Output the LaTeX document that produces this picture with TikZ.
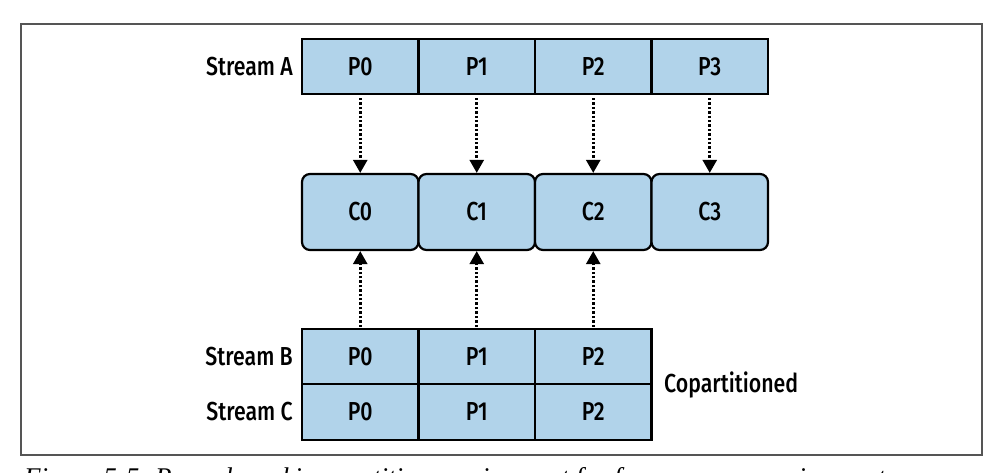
\documentclass[tikz,border=0pt]{standalone}
\usepackage{fontspec}
\setmainfont{Fira Sans}[UprightFont={* Medium}, FakeStretch=0.82]
\newfontfamily\capfont{Liberation Serif}
\usetikzlibrary{arrows.meta}
\definecolor{boxblue}{HTML}{B1D3EA}
\definecolor{framegray}{HTML}{555555}
\begin{document}
\begin{tikzpicture}[x=1pt,y=-1pt,
  txt/.style={font=\fontsize{26}{28}\selectfont},
  part/.style={txt, draw=black, line width=2.2pt, fill=boxblue,
    minimum width=116.5pt, minimum height=55pt, inner sep=0pt},
  cons/.style={part, minimum height=76pt, rounded corners=8pt},
  lbl/.style={txt, inner sep=0pt},
  dotarrow/.style={line width=2.6pt, dash pattern=on 2.4pt off 2pt,
    -{Triangle[width=14pt,length=13pt]}}
]
\useasboundingbox (0,0) rectangle (1002,473);
\clip (0,0) rectangle (1002,473);
% frame
\draw[framegray, line width=1.5pt] (21,24) rectangle (982,455);

% Stream A
\node[part] (a0) at (360.25,66.5) {P0};
\node[part] (a1) at (476.75,66.5) {P1};
\node[part] (a2) at (593.25,66.5) {P2};
\node[part] (a3) at (709.75,66.5) {P3};
\node[lbl, anchor=east] (la) at (293,66.5) {Stream A};

% Consumers
\node[cons] (c0) at (360.25,212) {C0};
\node[cons] (c1) at (476.75,212) {C1};
\node[cons] (c2) at (593.25,212) {C2};
\node[cons] (c3) at (709.75,212) {C3};

% Stream B
\node[part] (b0) at (360.25,356.5) {P0};
\node[part] (b1) at (476.75,356.5) {P1};
\node[part] (b2) at (593.25,356.5) {P2};
\node[lbl, anchor=east] (lb) at (293,356.5) {Stream B};

% Stream C
\node[part, minimum height=56pt] (s0) at (360.25,412) {P0};
\node[part, minimum height=56pt] (s1) at (476.75,412) {P1};
\node[part, minimum height=56pt] (s2) at (593.25,412) {P2};
\node[lbl, anchor=east] (lc) at (293,412) {Stream C};

\node[lbl, anchor=west] (cop) at (664,385) {Copartitioned};

% arrows down
\foreach \i in {0,1,2,3}{
  \draw[dotarrow, shorten <=3pt] (a\i.south) -- (c\i.north);
}
% arrows up
\foreach \i in {0,1,2}{
  \draw[dotarrow, shorten <=1pt] (b\i.north) -- (c\i.south);
}

% caption (cut off at the bottom)
\node[anchor=base west, inner sep=0pt, font=\capfont\itshape\fontsize{27}{29}\selectfont] (cap) at (24,486)
  {Figure 5-5. Records making partitions assignment for for consumer assignments};
\end{tikzpicture}
\end{document}
